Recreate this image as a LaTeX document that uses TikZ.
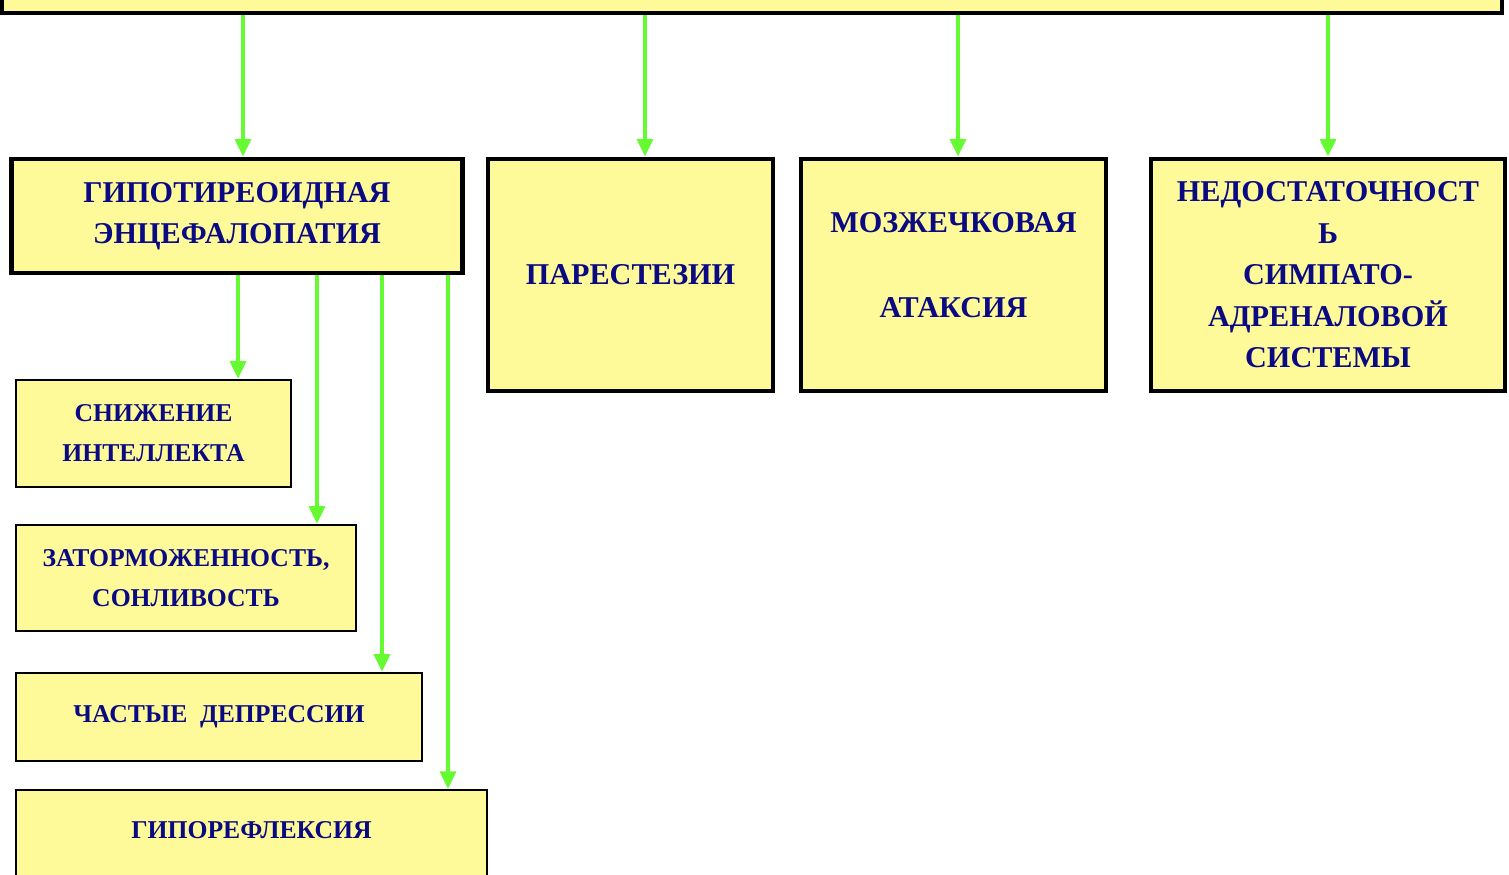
\documentclass[tikz,border=0pt]{standalone}
\usepackage{fontspec}
\setmainfont{Liberation Serif}
\usepackage{tikz}
\usetikzlibrary{arrows.meta}

\definecolor{boxyellow}{RGB}{255,250,153}
\definecolor{txtblue}{RGB}{10,10,130}
\definecolor{arrgreen}{RGB}{102,250,51}

\tikzset{
	bigbox/.style={draw, rectangle, line width=1.4pt, fill=boxyellow, text=txtblue, inner sep=0pt, align=center,
		font=\bfseries\fontsize{8.6}{11.8}\selectfont},
	smallbox/.style={draw, rectangle, line width=0.7pt, fill=boxyellow, text=txtblue, inner sep=0pt, align=center,
		font=\bfseries\fontsize{7.3}{11.4}\selectfont},
	arr/.style={draw=arrgreen, line width=1.1pt, -{Triangle[width=4.5pt,length=5pt]}}
}

\begin{document}
\begin{tikzpicture}
	\useasboundingbox (0,0) rectangle (15.09,-8.75);
	\clip (0,0) rectangle (15.09,-8.75);

	\node[bigbox, minimum width=15cm, minimum height=0.64cm] (top) at (7.52,0.19) {};

	\node[bigbox, minimum width=4.51cm, minimum height=1.14cm] (enceph) at (2.37,-2.16)
	{ГИПОТИРЕОИДНАЯ\\ЭНЦЕФАЛОПАТИЯ};
	\node[bigbox, minimum width=2.85cm, minimum height=2.32cm] (parest) at (6.305,-2.75)
	{ПАРЕСТЕЗИИ};
	\node[bigbox, minimum width=3.05cm, minimum height=2.32cm, text depth=0.2cm] (ataxia) at (9.535,-2.75)
	{МОЗЖЕЧКОВАЯ\\[12.4pt]АТАКСИЯ};
	\node[bigbox, minimum width=3.54cm, minimum height=2.32cm] (sympat) at (13.28,-2.75)
	{НЕДОСТАТОЧНОСТ\\Ь\\СИМПАТО-\\АДРЕНАЛОВОЙ\\СИСТЕМЫ};

	\node[smallbox, minimum width=2.75cm, minimum height=1.07cm] (intel) at (1.535,-4.335)
	{СНИЖЕНИЕ\\ИНТЕЛЛЕКТА};
	\node[smallbox, minimum width=3.40cm, minimum height=1.06cm] (sleep) at (1.86,-5.78)
	{ЗАТОРМОЖЕННОСТЬ,\\СОНЛИВОСТЬ};
	\node[smallbox, minimum width=4.06cm, minimum height=0.88cm] (depres) at (2.19,-7.17)
	{ЧАСТЫЕ~ ДЕПРЕССИИ};
	\node[smallbox, anchor=north, minimum width=4.71cm, minimum height=1.2cm, text depth=0.4cm] (reflex) at (2.515,-7.89)
	{ГИПОРЕФЛЕКСИЯ};

	\coordinate (a1) at (2.43,0);
	\coordinate (a2) at (6.45,0);
	\coordinate (a3) at (9.58,0);
	\coordinate (a4) at (13.28,0);
	\coordinate (b1) at (2.38,0);
	\coordinate (b2) at (3.17,0);
	\coordinate (b3) at (3.82,0);
	\coordinate (b4) at (4.48,0);

	\draw[arr] (top.south -| a1) -- (enceph.north -| a1);
	\draw[arr] (top.south -| a2) -- (parest.north -| a2);
	\draw[arr] (top.south -| a3) -- (ataxia.north -| a3);
	\draw[arr] (top.south -| a4) -- (sympat.north -| a4);

	\draw[arr] (enceph.south -| b1) -- (intel.north -| b1);
	\draw[arr] (enceph.south -| b2) -- (sleep.north -| b2);
	\draw[arr] (enceph.south -| b3) -- (depres.north -| b3);
	\draw[arr] (enceph.south -| b4) -- (reflex.north -| b4);

\end{tikzpicture}
\end{document}
